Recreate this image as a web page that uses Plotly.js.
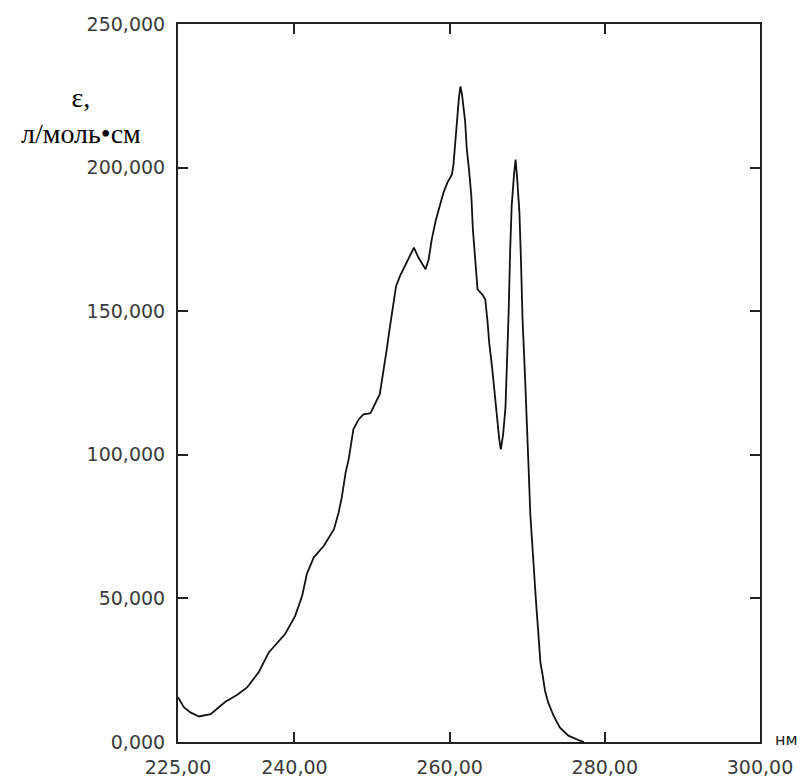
<!DOCTYPE html>
<html>
<head>
<meta charset="utf-8">
<script src="https://cdn.plot.ly/plotly-3.0.1.min.js"></script>
<style>html,body{margin:0;padding:0;background:#fff;}#chart{width:806px;height:781px;}</style>
</head>
<body>
<div id="chart"></div>
<script>
// wavelength, nm
const wavelength = [225.0,225.75,226.6,227.7,229.2,230.0,231.1,232.6,233.9,235.4,236.7,238.8,240.1,241.0,241.6,242.5,243.8,245.1,245.7,246.1,246.6,247.0,247.3,247.6,248.3,248.9,249.8,250.4,251.0,251.3,251.6,251.9,252.2,252.5,252.8,253.1,253.6,254.3,255.4,256.0,256.9,257.3,257.7,258.2,258.6,259.2,259.7,260.3,260.5,260.7,260.9,261.2,261.4,261.6,262.0,262.2,262.5,262.8,263.0,263.3,263.6,264.2,264.6,264.9,265.1,265.5,265.8,266.1,266.4,266.6,266.9,267.2,267.4,267.6,267.8,268.0,268.3,268.5,268.7,269.0,269.2,269.4,269.7,270.0,270.2,270.4,270.7,270.9,271.2,271.4,271.7,272.0,272.3,272.7,273.4,274.2,275.3,276.8,277.3];
// molar absorptivity (thousands)
const epsilon = [15.6,12.1,10.3,8.9,9.7,11.5,14.0,16.4,19.0,24.3,31.2,37.6,43.9,50.9,58.5,64.3,68.3,74.1,79.9,85.1,93.8,98.5,103.1,108.9,112.4,114.1,114.5,117.6,121.1,126.3,130.9,136.7,142.5,147.7,153.5,158.7,162.2,166.0,172.1,168.6,164.6,168.0,175.0,181.4,185.4,191.2,194.7,197.6,201.1,208.0,216.2,224.3,228.3,225.4,216.2,206.9,199.3,190.1,178.5,168.6,157.6,155.9,154.1,146.0,139.1,129.8,121.1,111.8,105.4,101.9,107.2,116.4,130.9,148.9,170.9,186.6,197.6,202.8,196.5,184.3,167.5,147.2,128.6,110.6,94.0,79.3,66.0,55.6,46.3,39.3,27.7,23.1,17.8,13.8,9.15,5.1,2.2,0.45,0.0];
const xTicks = [225,240,260,280,300];
const yTicks = [0,50,100,150,200,250];

const trace = {
  x: wavelength, y: epsilon, type: 'scatter', mode: 'lines',
  line: {color: '#111', width: 1.8}, hoverinfo: 'skip'
};
const tickFont = {family: 'DejaVu Sans, Verdana, sans-serif', size: 19, color: '#3a3a3a'};
const layout = {
  width: 806, height: 781,
  margin: {l: 177.5, r: 45.7, t: 24.3, b: 38.5},
  paper_bgcolor: '#fff', plot_bgcolor: '#fff',
  separators: ', ',
  showlegend: false,
  xaxis: {
    range: [225, 300], tickvals: xTicks, tickformat: '.2f',
    ticks: 'inside', ticklen: 10, tickwidth: 2, tickcolor: '#222',
    showline: true, linecolor: '#222', linewidth: 2, mirror: 'ticks',
    showgrid: false, zeroline: false, tickfont: tickFont, ticklabelstandoff: 7
  },
  yaxis: {
    range: [0, 250], tickvals: yTicks, tickformat: '.3f',
    ticks: 'inside', ticklen: 10, tickwidth: 2, tickcolor: '#222',
    showline: true, linecolor: '#222', linewidth: 2, mirror: 'ticks',
    showgrid: false, zeroline: false, tickfont: tickFont, ticklabelstandoff: 7
  },
  annotations: [
    {text: 'ε,<br>л/моль•см', xref: 'paper', yref: 'paper', x: -0.167, y: 0.872,
     xanchor: 'center', yanchor: 'middle', showarrow: false, align: 'center',
     font: {family: 'Liberation Serif, Times New Roman, serif', size: 28, color: '#000'}},
    {text: 'нм', xref: 'paper', yref: 'paper', x: 1.046, y: 0.004,
     xanchor: 'center', yanchor: 'middle', showarrow: false,
     font: {family: 'DejaVu Sans, Verdana, sans-serif', size: 16, color: '#222'}}
  ]
};
Plotly.newPlot('chart', [trace], layout, {displayModeBar: false, staticPlot: true});
</script>
</body>
</html>
